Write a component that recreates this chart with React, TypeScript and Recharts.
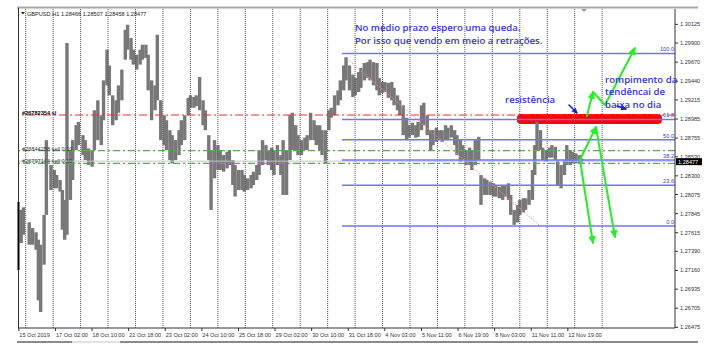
import React from 'react';
import { ComposedChart, Bar, XAxis, YAxis, ReferenceLine, ReferenceArea, ReferenceDot } from 'recharts';

// ---- price data (H1 bars, hour index from 15 Oct 2019 18:00) ----
const hours = [
  2, 4, 9, 12, 15, 17, 19, 22, 24, 28,
  31, 33, 36, 38, 40, 42, 45, 47, 50, 52,
  56, 58, 61, 64, 66, 69, 72, 74, 77, 79,
  82, 85, 87, 90, 93, 95, 98, 100, 103, 106,
  108, 111, 113, 116, 119, 121, 124, 127, 129, 132,
  134, 137, 140, 142, 145, 148, 150, 153, 155, 158,
  161, 163, 166, 168, 171, 174, 176, 179, 182, 184,
  187, 189, 192, 195, 197, 200, 203, 205, 208, 210,
  213, 216, 218, 221, 223, 226, 229, 231, 234, 237,
  239, 242, 244, 247, 250, 252, 255, 258, 260, 263,
  265, 268, 271, 273, 276, 279, 281, 284, 286, 289,
  292, 294, 297, 299, 302, 305, 307, 310, 313, 315,
  318, 320, 323, 326, 328, 331, 333, 336, 339, 341,
  344, 347, 349, 352, 354, 357, 360, 362, 365, 368,
  370, 373, 375, 378, 381, 383, 386, 388, 391, 394,
  396, 399, 402, 404, 407, 409, 412, 415, 417, 420,
  423, 425, 428, 430, 433, 436, 438, 441, 443, 446,
  449, 451, 453, 456, 458, 461, 464, 466, 469, 471,
  474, 477, 479, 482, 484, 487, 490, 492,
];
const highs = [
  1.2789, 1.2792, 1.2774, 1.2767, 1.2762, 1.2753, 1.2747, 1.2783, 1.2873, 1.2843,
  1.2837, 1.2831, 1.2825, 1.2813, 1.2801, 1.2990, 1.2861, 1.2873, 1.2891, 1.2895,
  1.2879, 1.2873, 1.2863, 1.2861, 1.2909, 1.2921, 1.2903, 1.2945, 1.2982, 1.2963,
  1.2927, 1.2921, 1.2939, 1.2958, 1.3006, 1.3012, 1.2996, 1.2982, 1.2976, 1.2982,
  1.2988, 1.2988, 1.2976, 1.2945, 1.2939, 1.3000, 1.2921, 1.2903, 1.2897, 1.2885,
  1.2879, 1.2873, 1.2885, 1.2897, 1.2903, 1.2924, 1.2927, 1.2925, 1.2927, 1.2949,
  1.2921, 1.2909, 1.2879, 1.2861, 1.2873, 1.2867, 1.2861, 1.2855, 1.2859, 1.2861,
  1.2849, 1.2843, 1.2837, 1.2837, 1.2831, 1.2827, 1.2831, 1.2835, 1.2843, 1.2861,
  1.2873, 1.2867, 1.2861, 1.2864, 1.2861, 1.2867, 1.2855, 1.2873, 1.2861, 1.2903,
  1.2906, 1.2891, 1.2879, 1.2873, 1.2876, 1.2879, 1.2906, 1.2897, 1.2891, 1.2891,
  1.2885, 1.2885, 1.2909, 1.2912, 1.2927, 1.2933, 1.2945, 1.2963, 1.2973, 1.2963,
  1.2952, 1.2948, 1.2955, 1.2960, 1.2966, 1.2967, 1.2970, 1.2967, 1.2966, 1.2948,
  1.2943, 1.2943, 1.2942, 1.2943, 1.2936, 1.2927, 1.2921, 1.2915, 1.2900, 1.2891,
  1.2894, 1.2891, 1.2895, 1.2915, 1.2918, 1.2903, 1.2885, 1.2885, 1.2888, 1.2885,
  1.2885, 1.2891, 1.2888, 1.2891, 1.2885, 1.2879, 1.2873, 1.2867, 1.2861, 1.2864,
  1.2861, 1.2873, 1.2877, 1.2831, 1.2827, 1.2825, 1.2823, 1.2821, 1.2819, 1.2817,
  1.2819, 1.2819, 1.2821, 1.2807, 1.2789, 1.2795, 1.2801, 1.2803, 1.2803, 1.2813,
  1.2837, 1.2867, 1.2895, 1.2885, 1.2864, 1.2861, 1.2864, 1.2867, 1.2865, 1.2849,
  1.2843, 1.2849, 1.2867, 1.2861, 1.2859, 1.2857, 1.2855, 1.2851,
];
const lows = [
  1.2749, 1.2759, 1.2747, 1.2747, 1.2741, 1.2680, 1.2666, 1.2723, 1.2783, 1.2813,
  1.2815, 1.2815, 1.2811, 1.2765, 1.2753, 1.2759, 1.2801, 1.2825, 1.2861, 1.2867,
  1.2855, 1.2849, 1.2843, 1.2841, 1.2861, 1.2873, 1.2867, 1.2897, 1.2939, 1.2927,
  1.2891, 1.2897, 1.2906, 1.2921, 1.2970, 1.2982, 1.2970, 1.2964, 1.2958, 1.2964,
  1.2970, 1.2972, 1.2933, 1.2897, 1.2909, 1.2921, 1.2873, 1.2867, 1.2861, 1.2849,
  1.2845, 1.2849, 1.2855, 1.2867, 1.2873, 1.2903, 1.2912, 1.2912, 1.2914, 1.2909,
  1.2891, 1.2885, 1.2849, 1.2789, 1.2827, 1.2837, 1.2837, 1.2835, 1.2839, 1.2843,
  1.2819, 1.2805, 1.2813, 1.2813, 1.2811, 1.2813, 1.2815, 1.2819, 1.2825, 1.2831,
  1.2843, 1.2849, 1.2843, 1.2837, 1.2831, 1.2843, 1.2831, 1.2807, 1.2807, 1.2849,
  1.2861, 1.2861, 1.2855, 1.2855, 1.2861, 1.2861, 1.2873, 1.2873, 1.2867, 1.2861,
  1.2855, 1.2845, 1.2885, 1.2900, 1.2903, 1.2915, 1.2921, 1.2933, 1.2945, 1.2933,
  1.2925, 1.2927, 1.2931, 1.2936, 1.2945, 1.2948, 1.2945, 1.2939, 1.2933, 1.2927,
  1.2930, 1.2931, 1.2924, 1.2921, 1.2915, 1.2909, 1.2903, 1.2879, 1.2873, 1.2876,
  1.2879, 1.2876, 1.2877, 1.2885, 1.2891, 1.2879, 1.2861, 1.2867, 1.2871, 1.2873,
  1.2871, 1.2873, 1.2873, 1.2876, 1.2867, 1.2855, 1.2847, 1.2849, 1.2843, 1.2843,
  1.2837, 1.2843, 1.2849, 1.2795, 1.2807, 1.2807, 1.2807, 1.2805, 1.2805, 1.2803,
  1.2801, 1.2805, 1.2801, 1.2783, 1.2771, 1.2774, 1.2783, 1.2786, 1.2789, 1.2795,
  1.2801, 1.2831, 1.2861, 1.2861, 1.2849, 1.2847, 1.2852, 1.2852, 1.2849, 1.2819,
  1.2815, 1.2831, 1.2843, 1.2843, 1.2845, 1.2845, 1.2845, 1.2846,
];

// ---- axes ----
const hourDomain = [-0.73, 573.7];
const priceDomain = [1.26467, 1.3031];
const tickHours = [0, 32, 64, 96, 128, 160, 192, 224, 256, 288, 320, 352, 384, 416, 448, 480];
const tickLabels = [
  '15 Oct 2019', '17 Oct 02:00', '18 Oct 10:00', '21 Oct 18:00', '23 Oct 02:00', '24 Oct 10:00',
  '25 Oct 18:00', '29 Oct 02:00', '30 Oct 10:00', '31 Oct 18:00', '4 Nov 03:00', '5 Nov 11:00',
  '6 Nov 19:00', '8 Nov 03:00', '11 Nov 11:00', '12 Nov 19:00',
];
const gridHours = [6, 30, 54, 78, 102, 126, 150, 174, 198, 222, 246, 270, 294, 318, 342, 366, 390, 414, 438, 462, 486, 510];
const priceTicks = [
  1.30125, 1.299, 1.2967, 1.2944, 1.29215, 1.28985, 1.28755, 1.2853, 1.283,
  1.28075, 1.27845, 1.27615, 1.2739, 1.2716, 1.26935, 1.26705, 1.26475,
];

// ---- trade lines ----
const bidPrice = 1.28477;
const slPrice = 1.29033;
const slLabel = '#26782354 sl';
const sellPrices = [1.28603, 1.28451];
const sellLabels = ['#26844258 sell 0.10', '#26797144 sell 0.10'];
const orderLabelHour = 2.8;

// ---- fibonacci ----
const fibHigh = 1.29774;
const fibLow = 1.27696;
const fibStartHour = 282.5;
const fibRatios = [1, 0.618, 0.5, 0.382, 0.236, 0];
const fibLabels = ['100.0', '61.8', '50.0', '38.2', '23.6', '0.0'];

// ---- drawings ----
const trendLine = [[285.2, 1.29731], [454.8, 1.27708]];
const resistanceZone = { h1: 435.5, h2: 562.3, p1: 1.28924, p2: 1.29045 };
const greenSegments = [
  { a: [490.6, 1.28491], b: [504.6, 1.28888], head: true },
  { a: [490.6, 1.28491], b: [502.0, 1.27491], head: true },
  { a: [504.6, 1.28888], b: [521.2, 1.27563], head: true },
  { a: [496.7, 1.29021], b: [502.0, 1.2931], head: true },
  { a: [502.0, 1.2931], b: [512.5, 1.29153], head: false },
  { a: [512.5, 1.29153], b: [538.7, 1.2984], head: true },
];
const blueSegments = [
  { a: [481.0, 1.29153], b: [488.0, 1.29057] },
  { a: [523.0, 1.29141], b: [530.9, 1.29105] },
];
const notes = [
  { h: 293.9, p: 1.30045, text: 'No médio prazo espero uma queda.' },
  { h: 293.9, p: 1.29888, text: 'Por isso que vendo em meio a retrações.' },
  { h: 425.1, p: 1.29177, text: 'resistência' },
  { h: 512.5, p: 1.29418, text: 'rompimento da' },
  { h: 512.5, p: 1.29268, text: 'tendêncai de' },
  { h: 512.5, p: 1.29117, text: 'baixa no dia' },
];

const data = hours.map((h, i) => ({ h, range: [lows[i], highs[i]] }));

const AX_FONT = 'Liberation Sans, Arial, sans-serif';
const NOTE_BLUE = '#3434e0';

const arrowShape = (color: string, width: number, head: boolean, headLen: number) => (props: any) => {
  const { x1, y1, x2, y2 } = props;
  const ang = Math.atan2(y2 - y1, x2 - x1);
  const hx1 = x2 - headLen * Math.cos(ang - 0.45);
  const hy1 = y2 - headLen * Math.sin(ang - 0.45);
  const hx2 = x2 - headLen * Math.cos(ang + 0.45);
  const hy2 = y2 - headLen * Math.sin(ang + 0.45);
  return (
    <g>
      <line x1={x1} y1={y1} x2={x2} y2={y2} stroke={color} strokeWidth={width} strokeLinecap="round" />
      {head && <polygon points={`${x2},${y2} ${hx1},${hy1} ${hx2},${hy2}`} fill={color} stroke={color} strokeWidth={1} />}
    </g>
  );
};

const PriceBar = (props: any) => {
  const { x, y, width, height } = props;
  const cx = x + width / 2;
  const w = 3.4;
  return <rect x={cx - w / 2} y={y} width={w} height={Math.max(height, 1)} fill="#787878" />;
};

const XTick = (props: any) => {
  const { x, y, payload } = props;
  const idx = tickHours.indexOf(payload.value);
  return (
    <g>
      <line x1={x} y1={y - 3} x2={x} y2={y} stroke="#333" strokeWidth={1} />
      <text x={x + 0.5} y={y + 5.5} fontSize={5.6} fontFamily={AX_FONT} fill="#333" textAnchor="start">
        {tickLabels[idx]}
      </text>
    </g>
  );
};

const YTick = (props: any) => {
  const { x, y, payload } = props;
  return (
    <text x={x} y={y + 2} fontSize={5.6} fontFamily={AX_FONT} fill="#333" textAnchor="start">
      {payload.value.toFixed(5)}
    </text>
  );
};

const textShape = (text: string, color: string, size: number, weight: number, family: string) => (props: any) => (
  <text x={props.cx} y={props.cy} fontSize={size} fontWeight={weight} fontFamily={family} fill={color}>
    {text}
  </text>
);

export default function App() {
  return (
    <div style={{ position: 'absolute', left: 0, top: 0, width: 712, height: 357, background: '#fff', overflow: 'hidden' }}>
      <ComposedChart
        width={712}
        height={357}
        data={data}
        margin={{ top: 9, right: 0, bottom: 0, left: 18 }}
      >
        <XAxis
          dataKey="h"
          type="number"
          domain={hourDomain}
          allowDataOverflow
          ticks={tickHours}
          tick={<XTick />}
          tickLine={false}
          tickSize={3}
          tickMargin={0}
          height={29}
          axisLine={{ stroke: '#333', strokeWidth: 1 }}
          interval={0}
        />
        <YAxis
          orientation="right"
          type="number"
          domain={priceDomain}
          allowDataOverflow
          ticks={priceTicks}
          tick={<YTick />}
          tickSize={3}
          tickMargin={2}
          width={37}
          axisLine={{ stroke: '#333', strokeWidth: 1 }}
          tickLine={{ stroke: '#333' }}
          interval={0}
        />

        {gridHours.map((g) => (
          <ReferenceLine key={'g' + g} x={g} stroke="#555" strokeDasharray="1 1" strokeWidth={1} ifOverflow="visible" />
        ))}

        <ReferenceLine
          y={bidPrice}
          stroke="#c6c6c6"
          strokeWidth={1}
          ifOverflow="visible"
          label={(p: any) => {
            const vb = p.viewBox;
            return (
              <g>
                <rect x={vb.x + vb.width + 1} y={vb.y - 3} width={26} height={7} fill="#000" />
                <text x={vb.x + vb.width + 3} y={vb.y + 2.5} fontSize={5.6} fontFamily={AX_FONT} fill="#fff">
                  {bidPrice.toFixed(5)}
                </text>
              </g>
            );
          }}
        />

        {fibRatios.map((r, i) => (
          <ReferenceLine
            key={'f' + i}
            segment={[
              { x: fibStartHour, y: fibLow + r * (fibHigh - fibLow) },
              { x: hourDomain[1], y: fibLow + r * (fibHigh - fibLow) },
            ]}
            stroke="#7474f2"
            strokeWidth={1.5}
            ifOverflow="visible"
            label={(p: any) => {
              const vb = p.viewBox;
              return (
                <text x={vb.x + vb.width - 1} y={vb.y - 2} fontSize={5.6} fontFamily={AX_FONT} fill="#3a3ad0" textAnchor="end">
                  {fibLabels[i]}
                </text>
              );
            }}
          />
        ))}

        {sellPrices.map((sp, i) => (
          <ReferenceLine key={'s' + i} y={sp} stroke="#5aaa5a" strokeWidth={1.2} strokeDasharray="7 3 2 3" ifOverflow="visible" />
        ))}
        <ReferenceLine y={slPrice} stroke="#ee3030" strokeWidth={1.2} strokeDasharray="8 3 2 3" ifOverflow="visible" />

        <ReferenceLine
          segment={[{ x: trendLine[0][0], y: trendLine[0][1] }, { x: trendLine[1][0], y: trendLine[1][1] }]}
          stroke="#ff8c8c"
          strokeWidth={1}
          strokeDasharray="1.5 1.5"
          ifOverflow="visible"
        />

        <Bar dataKey="range" fill="#787878" shape={<PriceBar />} isAnimationActive={false} />

        <ReferenceArea
          x1={resistanceZone.h1}
          x2={resistanceZone.h2}
          y1={resistanceZone.p1}
          y2={resistanceZone.p2}
          ifOverflow="visible"
          shape={(p: any) => <rect x={p.x} y={p.y} width={p.width} height={p.height} rx={4} ry={4} fill="#ff0000" />}
        />

        {sellPrices.map((sp, i) => (
          <ReferenceDot
            key={'sl' + i}
            x={orderLabelHour}
            y={sp}
            r={0}
            ifOverflow="visible"
            shape={textShape(sellLabels[i], '#333', 5.6, 400, AX_FONT)}
          />
        ))}
        <ReferenceDot x={orderLabelHour} y={slPrice} r={0} ifOverflow="visible" shape={textShape(slLabel, '#000', 5.6, 700, AX_FONT)} />

        {greenSegments.map((s, i) => (
          <ReferenceLine
            key={'gr' + i}
            segment={[{ x: s.a[0], y: s.a[1] }, { x: s.b[0], y: s.b[1] }]}
            ifOverflow="visible"
            shape={arrowShape('#22f022', 2, s.head, 7)}
          />
        ))}
        {blueSegments.map((s, i) => (
          <ReferenceLine
            key={'bl' + i}
            segment={[{ x: s.a[0], y: s.a[1] }, { x: s.b[0], y: s.b[1] }]}
            ifOverflow="visible"
            shape={arrowShape('#1c1cd0', 1.5, true, 5)}
          />
        ))}

        {notes.map((n, i) => (
          <ReferenceDot
            key={'n' + i}
            x={n.h}
            y={n.p}
            r={0}
            ifOverflow="visible"
            shape={textShape(n.text, NOTE_BLUE, 9.6, 600, 'Open Sans, Noto Sans, sans-serif')}
          />
        ))}
      </ComposedChart>

      <svg width={712} height={357} style={{ position: 'absolute', left: 0, top: 0, pointerEvents: 'none' }}>
        <line x1={17} y1={7.5} x2={698} y2={7.5} stroke="#a8a8a8" strokeWidth={2} />
        <line x1={18.5} y1={8} x2={18.5} y2={328} stroke="#333" strokeWidth={1} />
        <line x1={18.5} y1={202} x2={18.5} y2={270} stroke="#000" strokeWidth={2} />
        <line x1={17} y1={342} x2={72} y2={342} stroke="#8a8a8a" strokeWidth={2} />
        <line x1={72} y1={342} x2={120} y2={342} stroke="#e2e2e2" strokeWidth={2} />
        <line x1={120} y1={342} x2={698} y2={342} stroke="#8a8a8a" strokeWidth={2} />
        <polygon points="21,12 25,12 23,14.5" fill="#222" />
        <polygon points="581,9 587,9 584,12" fill="#999" />
        <text x={27} y={15.5} fontSize={5.6} fontFamily={AX_FONT} fill="#222">
          GBPUSD,H1  1.28466 1.28507 1.28458 1.28477
        </text>
      </svg>
    </div>
  );
}
